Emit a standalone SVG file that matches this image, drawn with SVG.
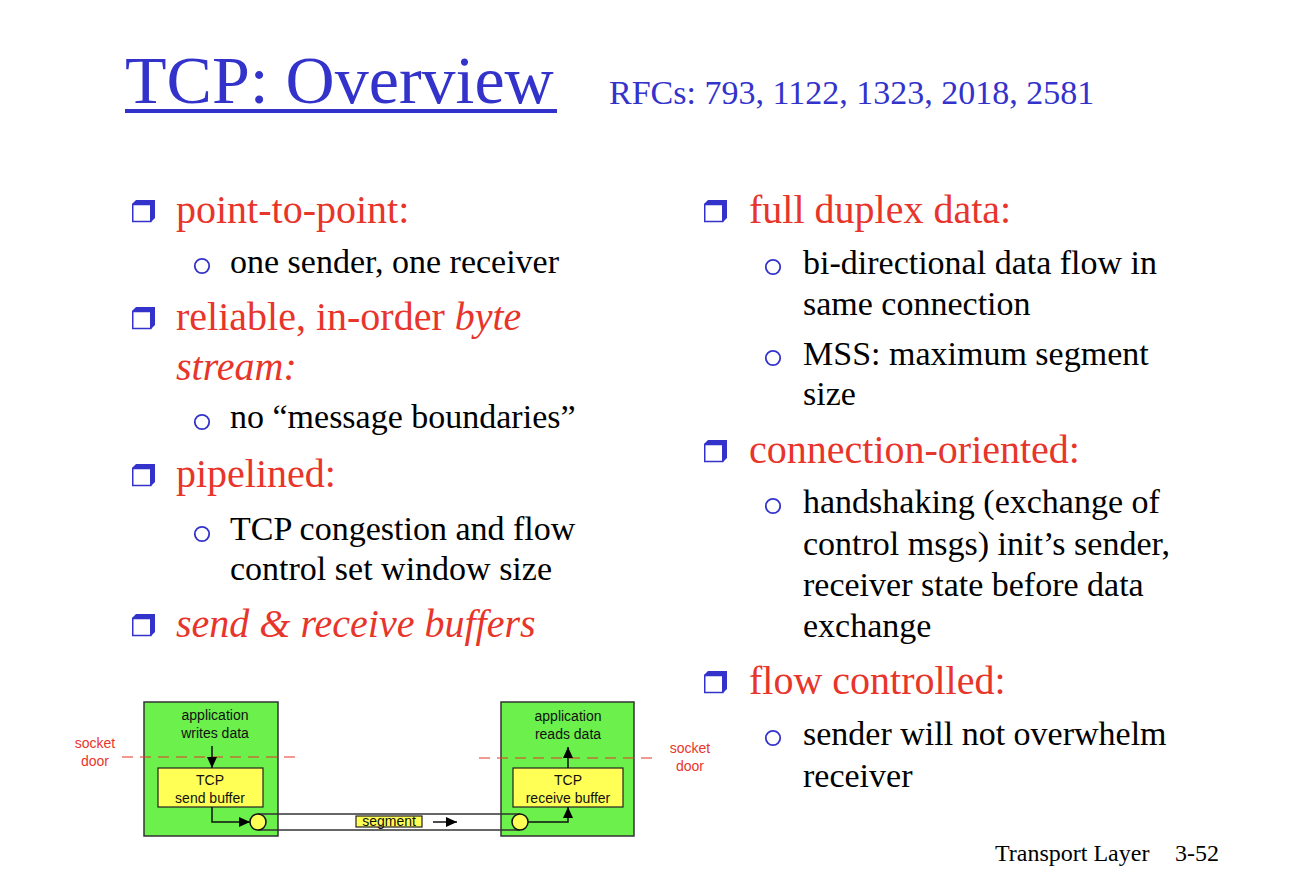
<svg xmlns="http://www.w3.org/2000/svg" xmlns:xlink="http://www.w3.org/1999/xlink" width="1308" height="890" viewBox="0 0 1308 890">
<style>
.title{font-family:"Liberation Serif","Times New Roman",serif;fill:#3333CC}
.main{font-family:"Liberation Serif","Times New Roman",serif;font-size:40px;fill:#E8352B}
.sub{font-family:"Liberation Serif","Times New Roman",serif;font-size:34px;fill:#000}
.foot{font-family:"Liberation Serif","Times New Roman",serif;font-size:24px;fill:#000}
.lbl{font-family:"Liberation Sans",Arial,sans-serif;font-size:14px;fill:#111;text-anchor:middle}
.red{font-family:"Liberation Sans",Arial,sans-serif;font-size:14px;fill:#E8352B;text-anchor:middle}
.host{fill:#6CF04C;stroke:#333;stroke-width:1.5}
.buf{fill:#FFFF55;stroke:#222;stroke-width:1.2}
.dash{stroke:#E8352B;stroke-width:1.2;stroke-dasharray:11,7;fill:none}
.wire{stroke:#111;stroke-width:1.5;fill:none}
.pipe{stroke:#333;stroke-width:1.5;fill:none}
.port{fill:#FFFF55;stroke:#111;stroke-width:1.5}
.cb{fill:none;stroke:#3333CC;stroke-width:1.8}
</style>
<defs>
<marker id="ah" markerUnits="userSpaceOnUse" markerWidth="12" markerHeight="10" refX="11" refY="5" orient="auto">
<path d="M0,0 L11,5 L0,10 z" fill="#000"/>
</marker>
<g id="sq">
<polygon points="0,-18 4,-22 23,-22 23,-4 19,0 19,-18" fill="#3333CC"/>
<rect x="0.75" y="-17.5" width="18" height="17" fill="#fff" stroke="#3333CC" stroke-width="1.5"/>
</g>
</defs>
<rect width="1308" height="890" fill="#fff"/>

<g id="title">
<text class="title" x="125" y="103" font-size="68">TCP: Overview</text>
<rect x="125" y="109" width="432" height="4" fill="#3333CC"/>
<text class="title" x="609" y="104" font-size="34">RFCs: 793, 1122, 1323, 2018, 2581</text>
</g>

<g id="left-column">
<use xlink:href="#sq" x="132" y="222"/>
<text class="main" x="176" y="223">point-to-point:</text>
<circle class="cb" cx="202" cy="266" r="7.2"/>
<text class="sub" x="230" y="273">one sender, one receiver</text>
<use xlink:href="#sq" x="132" y="329"/>
<text class="main" x="176" y="330">reliable, in-order <tspan font-style="italic">byte</tspan></text>
<text class="main" x="176" y="380" font-style="italic">stream:</text>
<circle class="cb" cx="202" cy="422" r="7.2"/>
<text class="sub" x="230" y="428">no “message boundaries”</text>
<use xlink:href="#sq" x="132" y="486"/>
<text class="main" x="176" y="487">pipelined:</text>
<circle class="cb" cx="202" cy="534" r="7.2"/>
<text class="sub" x="230" y="540">TCP congestion and flow</text>
<text class="sub" x="230" y="580">control set window size</text>
<use xlink:href="#sq" x="132" y="636"/>
<text class="main" x="176" y="637" font-style="italic">send &amp; receive buffers</text>
</g>

<g id="right-column">
<use xlink:href="#sq" x="704" y="222"/>
<text class="main" x="749" y="223">full duplex data:</text>
<circle class="cb" cx="773" cy="267" r="7.2"/>
<text class="sub" x="803" y="274">bi-directional data flow in</text>
<text class="sub" x="803" y="315">same connection</text>
<circle class="cb" cx="773" cy="358" r="7.2"/>
<text class="sub" x="803" y="365">MSS: maximum segment</text>
<text class="sub" x="803" y="405">size</text>
<use xlink:href="#sq" x="704" y="462"/>
<text class="main" x="749" y="463">connection-oriented:</text>
<circle class="cb" cx="773" cy="506" r="7.2"/>
<text class="sub" x="803" y="513">handshaking (exchange of</text>
<text class="sub" x="803" y="555">control msgs) init’s sender,</text>
<text class="sub" x="803" y="596">receiver state before data</text>
<text class="sub" x="803" y="637">exchange</text>
<use xlink:href="#sq" x="704" y="693"/>
<text class="main" x="749" y="694">flow controlled:</text>
<circle class="cb" cx="773" cy="738" r="7.2"/>
<text class="sub" x="803" y="745">sender will not overwhelm</text>
<text class="sub" x="803" y="787">receiver</text>
</g>

<g id="sender-host">
<rect class="host" x="144" y="702" width="134" height="134"/>
<text class="lbl" x="215" y="720">application</text>
<text class="lbl" x="215" y="738">writes data</text>
</g>
<g id="receiver-host">
<rect class="host" x="501" y="702" width="133" height="134"/>
<text class="lbl" x="568" y="721">application</text>
<text class="lbl" x="568" y="739">reads data</text>
</g>

<g id="socket-doors">
<line class="dash" x1="122" y1="757" x2="300" y2="757"/>
<line class="dash" x1="479" y1="758" x2="658" y2="758"/>
<text class="red" x="95" y="748">socket</text>
<text class="red" x="95" y="766">door</text>
<text class="red" x="690" y="753">socket</text>
<text class="red" x="690" y="771">door</text>
</g>

<g id="send-buffer">
<rect class="buf" x="158" y="768" width="105" height="39"/>
<text class="lbl" x="210" y="785">TCP</text>
<text class="lbl" x="210" y="803">send buffer</text>
</g>
<g id="receive-buffer">
<rect class="buf" x="513" y="768" width="110" height="39"/>
<text class="lbl" x="568" y="785">TCP</text>
<text class="lbl" x="568" y="803">receive buffer</text>
</g>

<g id="connectors">
<line class="pipe" x1="258" y1="814" x2="520" y2="814"/>
<line class="pipe" x1="258" y1="830" x2="520" y2="830"/>
<line class="wire" x1="212" y1="746" x2="212" y2="768" marker-end="url(#ah)"/>
<path class="wire" d="M212,807 V822 H250" marker-end="url(#ah)"/>
<path class="wire" d="M528,822 H568 V807" marker-end="url(#ah)"/>
<line class="wire" x1="568" y1="768" x2="568" y2="747" marker-end="url(#ah)"/>
<line class="wire" x1="433" y1="822" x2="457" y2="822" marker-end="url(#ah)"/>
</g>

<g id="sender-port"><circle class="port" cx="258" cy="822" r="8"/></g>
<g id="receiver-port"><circle class="port" cx="520" cy="822" r="8"/></g>

<g id="segment">
<rect class="buf" x="356" y="816" width="66" height="11"/>
<text class="lbl" x="389" y="826" font-size="13">segment</text>
</g>

<g id="footer">
<text class="foot" x="995" y="861">Transport Layer</text>
<text class="foot" x="1175" y="861" font-size="25">3-52</text>
</g>
</svg>
